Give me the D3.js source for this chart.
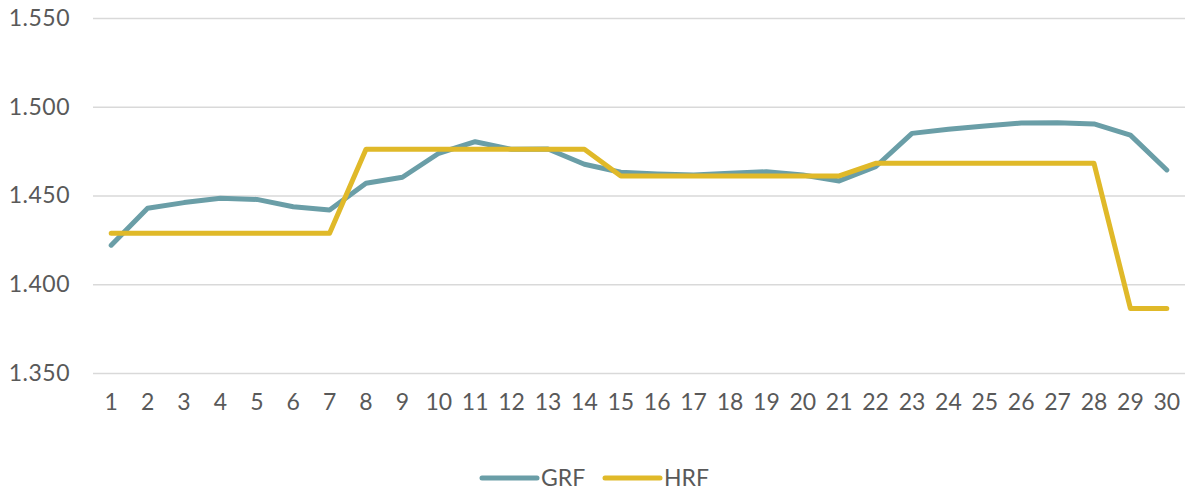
<!DOCTYPE html>
<html>
<head>
<meta charset="utf-8">
<script src="https://cdn.jsdelivr.net/npm/d3@7"></script>
<style>
  body { margin: 0; background: #fff; }
  svg text { font-family: Lato, "Open Sans", sans-serif; fill: #595959; }
</style>
</head>
<body>
<div id="chart"></div>
<script>
// values
const categories = d3.range(1, 31).map(String)
const grf = [1.422, 1.4428, 1.446, 1.4484, 1.4478, 1.4437, 1.4418, 1.4569, 1.4603, 1.4738,
             1.4803, 1.476, 1.4762, 1.4676, 1.4631, 1.4621, 1.4615, 1.4625, 1.4634, 1.4615,
             1.4582, 1.4662, 1.485, 1.4873, 1.4892, 1.4908, 1.491, 1.4903, 1.484, 1.4644]
const hrf = [1.4287, 1.4287, 1.4287, 1.4287, 1.4287, 1.4287, 1.4287, 1.476, 1.476, 1.476,
             1.476, 1.476, 1.476, 1.476, 1.461, 1.461, 1.461, 1.461, 1.461, 1.461,
             1.461, 1.4681, 1.4681, 1.4681, 1.4681, 1.4681, 1.4681, 1.4681, 1.3864, 1.3864]
const yTicks = [1.35, 1.40, 1.45, 1.50, 1.55]
const seriesNames = ['GRF', 'HRF']
const colors = ['#6a9ea7', '#e0b929']

const width = 1193, height = 494
const margin = {top: 18, right: 8, bottom: 121, left: 93}

const svg = d3.select('#chart').append('svg')
    .attr('width', width)
    .attr('height', height)

const x = d3.scaleBand()
    .domain(categories)
    .range([margin.left, width - margin.right])

const y = d3.scaleLinear()
    .domain([1.35, 1.55])
    .range([height - margin.bottom, margin.top])

// gridlines + y labels
const yAxis = svg.append('g')
    .attr('class', 'y-axis')
    .attr('transform', 'translate(' + margin.left + ',0)')
    .call(d3.axisLeft(y).tickValues(yTicks).tickSize(-(width - margin.left - margin.right))
        .tickPadding(23).tickFormat(d3.format('.3f')))
yAxis.select('.domain').remove()
yAxis.selectAll('line').attr('stroke', '#d9d9d9').attr('stroke-width', 1.5)
yAxis.selectAll('text').style('font-size', '23px').style('letter-spacing', '0.5px')

// x labels
const xAxis = svg.append('g')
    .attr('class', 'x-axis')
    .attr('transform', 'translate(0,' + (height - margin.bottom) + ')')
    .call(d3.axisBottom(x).tickSize(0).tickPadding(21))
xAxis.select('.domain').remove()
xAxis.selectAll('text').style('font-size', '23px')

const line = d3.line()
    .x((d, i) => x(categories[i]) + x.bandwidth() / 2)
    .y(d => y(d))

;[grf, hrf].forEach((vals, i) => {
    svg.append('path')
        .datum(vals)
        .attr('fill', 'none')
        .attr('stroke', colors[i])
        .attr('stroke-width', 5)
        .attr('stroke-linejoin', 'round')
        .attr('stroke-linecap', 'round')
        .attr('d', line)
})

// legend
const legend = svg.append('g').attr('class', 'legend')
const legendX = [482, 605]
seriesNames.forEach((name, i) => {
    const g = legend.append('g').attr('transform', 'translate(' + legendX[i] + ',478)')
    g.append('line')
        .attr('x1', 0).attr('x2', 55)
        .attr('stroke', colors[i])
        .attr('stroke-width', 5)
        .attr('stroke-linecap', 'round')
    g.append('text')
        .attr('x', 59)
        .attr('dy', '0.35em')
        .style('font-size', '23px')
        .text(name)
})
</script>
</body>
</html>
